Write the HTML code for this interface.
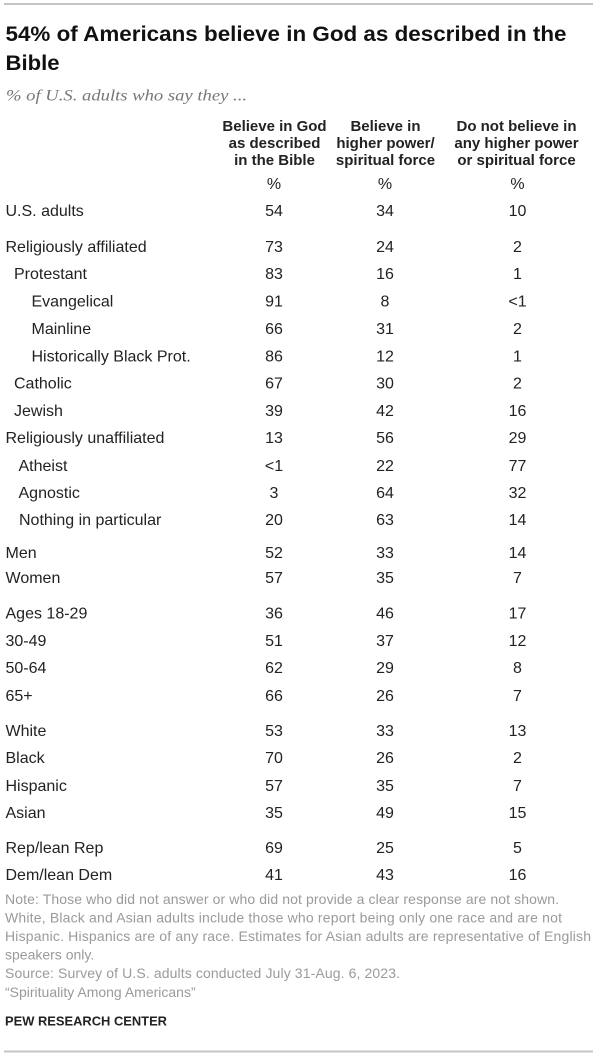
<!DOCTYPE html>
<html>
<head>
<meta charset="utf-8">
<style>
  html, body { margin: 0; padding: 0; background: #fff; }
  svg { display: block; }
  .t { font-family: "Liberation Sans", Arial, sans-serif; }
  .title { font-size: 21px; font-weight: bold; fill: #111; }
  .sub { font-family: "Liberation Serif", serif; font-style: italic; font-size: 16px; fill: #777; }
  .hd { font-size: 15px; font-weight: bold; fill: #222; text-anchor: middle; }
  .lb { font-size: 16px; fill: #222; }
  .nm { font-size: 16px; fill: #222; text-anchor: middle; }
  .note { font-size: 14px; fill: #9a9a9a; }
  .pew { font-size: 13px; font-weight: bold; fill: #222; }
</style>
</head>
<body>
<svg width="600" height="1057" viewBox="0 0 600 1057" xmlns="http://www.w3.org/2000/svg">
  <rect x="0" y="0" width="600" height="1057" fill="#fff"/>
  <rect x="4" y="3" width="589" height="2" fill="#c4c4c4"/>

  <text class="t title" x="5.5" y="41" textLength="561" lengthAdjust="spacingAndGlyphs">54% of Americans believe in God as described in the</text>
  <text class="t title" x="5.5" y="70" textLength="54" lengthAdjust="spacingAndGlyphs">Bible</text>

  <text class="sub" x="6" y="100.5" textLength="241" lengthAdjust="spacingAndGlyphs">% of U.S. adults who say they ...</text>

  <!-- headers -->
  <g class="t">
    <text class="hd" x="274.5" y="131">Believe in God</text>
    <text class="hd" x="274.5" y="148">as described</text>
    <text class="hd" x="274.5" y="165">in the Bible</text>
    <text class="hd" x="385.5" y="131">Believe in</text>
    <text class="hd" x="385.5" y="148">higher power/</text>
    <text class="hd" x="385.5" y="165">spiritual force</text>
    <text class="hd" x="516.5" y="131">Do not believe in</text>
    <text class="hd" x="516.5" y="148">any higher power</text>
    <text class="hd" x="516.5" y="165">or spiritual force</text>

    <text class="nm" x="274" y="189">%</text>
    <text class="nm" x="385" y="189">%</text>
    <text class="nm" x="517.5" y="189">%</text>
  </g>

  <!-- rows -->
  <g class="t">
    <text class="lb" x="5.5" y="216">U.S. adults</text>
    <text class="nm" x="274" y="216">54</text><text class="nm" x="385" y="216">34</text><text class="nm" x="517.5" y="216">10</text>

    <text class="lb" x="5.5" y="252">Religiously affiliated</text>
    <text class="nm" x="274" y="252">73</text><text class="nm" x="385" y="252">24</text><text class="nm" x="517.5" y="252">2</text>

    <text class="lb" x="14" y="279">Protestant</text>
    <text class="nm" x="274" y="279">83</text><text class="nm" x="385" y="279">16</text><text class="nm" x="517.5" y="279">1</text>

    <text class="lb" x="31.5" y="306.5">Evangelical</text>
    <text class="nm" x="274" y="306.5">91</text><text class="nm" x="385" y="306.5">8</text><text class="nm" x="517.5" y="306.5">&lt;1</text>

    <text class="lb" x="31.5" y="334">Mainline</text>
    <text class="nm" x="274" y="334">66</text><text class="nm" x="385" y="334">31</text><text class="nm" x="517.5" y="334">2</text>

    <text class="lb" x="31.5" y="361.5">Historically Black Prot.</text>
    <text class="nm" x="274" y="361.5">86</text><text class="nm" x="385" y="361.5">12</text><text class="nm" x="517.5" y="361.5">1</text>

    <text class="lb" x="14" y="388.5">Catholic</text>
    <text class="nm" x="274" y="388.5">67</text><text class="nm" x="385" y="388.5">30</text><text class="nm" x="517.5" y="388.5">2</text>

    <text class="lb" x="14" y="416">Jewish</text>
    <text class="nm" x="274" y="416">39</text><text class="nm" x="385" y="416">42</text><text class="nm" x="517.5" y="416">16</text>

    <text class="lb" x="5.5" y="443">Religiously unaffiliated</text>
    <text class="nm" x="274" y="443">13</text><text class="nm" x="385" y="443">56</text><text class="nm" x="517.5" y="443">29</text>

    <text class="lb" x="18.5" y="471">Atheist</text>
    <text class="nm" x="274" y="471">&lt;1</text><text class="nm" x="385" y="471">22</text><text class="nm" x="517.5" y="471">77</text>

    <text class="lb" x="18.5" y="498">Agnostic</text>
    <text class="nm" x="274" y="498">3</text><text class="nm" x="385" y="498">64</text><text class="nm" x="517.5" y="498">32</text>

    <text class="lb" x="19" y="525">Nothing in particular</text>
    <text class="nm" x="274" y="525">20</text><text class="nm" x="385" y="525">63</text><text class="nm" x="517.5" y="525">14</text>

    <text class="lb" x="5.5" y="558">Men</text>
    <text class="nm" x="274" y="558">52</text><text class="nm" x="385" y="558">33</text><text class="nm" x="517.5" y="558">14</text>

    <text class="lb" x="5.5" y="583">Women</text>
    <text class="nm" x="274" y="583">57</text><text class="nm" x="385" y="583">35</text><text class="nm" x="517.5" y="583">7</text>

    <text class="lb" x="5.5" y="618.5">Ages 18-29</text>
    <text class="nm" x="274" y="618.5">36</text><text class="nm" x="385" y="618.5">46</text><text class="nm" x="517.5" y="618.5">17</text>

    <text class="lb" x="5.5" y="646">30-49</text>
    <text class="nm" x="274" y="646">51</text><text class="nm" x="385" y="646">37</text><text class="nm" x="517.5" y="646">12</text>

    <text class="lb" x="5.5" y="673">50-64</text>
    <text class="nm" x="274" y="673">62</text><text class="nm" x="385" y="673">29</text><text class="nm" x="517.5" y="673">8</text>

    <text class="lb" x="5.5" y="701">65+</text>
    <text class="nm" x="274" y="701">66</text><text class="nm" x="385" y="701">26</text><text class="nm" x="517.5" y="701">7</text>

    <text class="lb" x="5.5" y="736">White</text>
    <text class="nm" x="274" y="736">53</text><text class="nm" x="385" y="736">33</text><text class="nm" x="517.5" y="736">13</text>

    <text class="lb" x="5.5" y="763">Black</text>
    <text class="nm" x="274" y="763">70</text><text class="nm" x="385" y="763">26</text><text class="nm" x="517.5" y="763">2</text>

    <text class="lb" x="5.5" y="791">Hispanic</text>
    <text class="nm" x="274" y="791">57</text><text class="nm" x="385" y="791">35</text><text class="nm" x="517.5" y="791">7</text>

    <text class="lb" x="5.5" y="818">Asian</text>
    <text class="nm" x="274" y="818">35</text><text class="nm" x="385" y="818">49</text><text class="nm" x="517.5" y="818">15</text>

    <text class="lb" x="5.5" y="853">Rep/lean Rep</text>
    <text class="nm" x="274" y="853">69</text><text class="nm" x="385" y="853">25</text><text class="nm" x="517.5" y="853">5</text>

    <text class="lb" x="5.5" y="880">Dem/lean Dem</text>
    <text class="nm" x="274" y="880">41</text><text class="nm" x="385" y="880">43</text><text class="nm" x="517.5" y="880">16</text>
  </g>

  <!-- notes -->
  <g class="t">
    <text class="note" x="5" y="904" textLength="554" lengthAdjust="spacing">Note: Those who did not answer or who did not provide a clear response are not shown.</text>
    <text class="note" x="5" y="922.5" textLength="557" lengthAdjust="spacing">White, Black and Asian adults include those who report being only one race and are not</text>
    <text class="note" x="5" y="941" textLength="586" lengthAdjust="spacing">Hispanic. Hispanics are of any race. Estimates for Asian adults are representative of English</text>
    <text class="note" x="5" y="959.5">speakers only.</text>
    <text class="note" x="5" y="978" textLength="395" lengthAdjust="spacing">Source: Survey of U.S. adults conducted July 31-Aug. 6, 2023.</text>
    <text class="note" x="5" y="997">&#8220;Spirituality Among Americans&#8221;</text>

    <text class="pew" x="5" y="1025.5" textLength="162" lengthAdjust="spacingAndGlyphs">PEW RESEARCH CENTER</text>
  </g>

  <rect x="4" y="1050.5" width="589" height="2" fill="#c4c4c4"/>
</svg>
</body>
</html>
